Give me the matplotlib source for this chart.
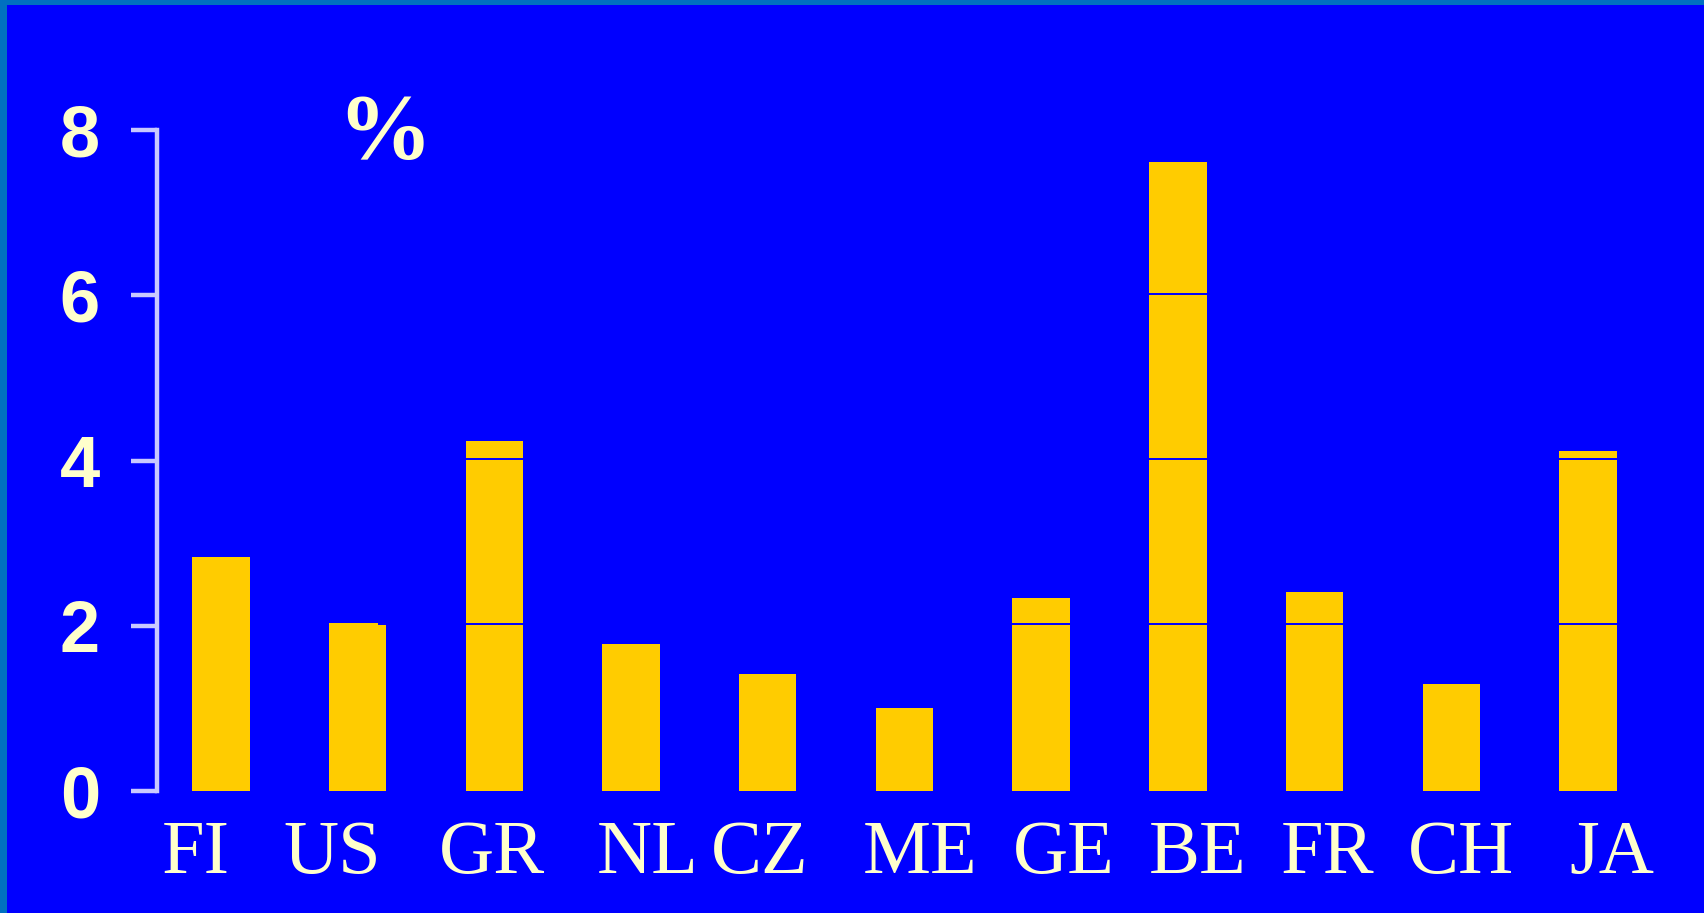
import matplotlib.pyplot as plt
import matplotlib.transforms as mtransforms
from matplotlib.patches import Rectangle

countries = ["FI", "US", "GR", "NL", "CZ", "ME", "GE", "BE", "FR", "CH", "JA"]
values = [2.83, 2.03, 4.24, 1.78, 1.42, 1.00, 2.34, 7.61, 2.41, 1.30, 4.12]
yticks = [0, 2, 4, 6, 8]
# the slide's labels are not quite centred under their bars (pixels)
label_shift_px = [-25, -25, -2, 17, -8, 16, 23, 20, 13, 10, 24]

BG = "#0000FF"
BAR = "#FFCC00"
TEXT = "#FFFFCC"
AXIS = "#C8C8FF"

fig = plt.figure(figsize=(17.04, 9.13), dpi=100, facecolor="#0070C0")
# blue slide area, leaving the steel-blue strip on the left and top
fig.patches.append(Rectangle((7 / 1704, 0), 1 - 7 / 1704, 1 - 5 / 913,
                             transform=fig.transFigure, facecolor=BG,
                             edgecolor="none", zorder=-10))

ax = fig.add_axes([0.0921, 0.1336, 0.888, 0.7240])
ax.set_facecolor("none")

x = list(range(len(countries)))
ax.bar(x, values, width=0.42, color=BAR, zorder=2)

# gridlines only show where they cross the bars (they start past the FI bar)
for y in [2, 4, 6]:
    ax.axhline(y + 0.02, xmin=0.1467, color=BG, lw=1.4, zorder=3)

ax.set_xlim(-0.468, 10.6)
ax.set_ylim(0, 8)

for side in ["top", "right", "bottom"]:
    ax.spines[side].set_visible(False)
ax.spines["left"].set_color(AXIS)
ax.spines["left"].set_linewidth(3.2)

ax.set_yticks(yticks)
ax.set_yticklabels([str(v) for v in yticks], fontsize=52, fontweight="bold",
                   fontfamily="Liberation Sans", color=TEXT)
ax.tick_params(axis="y", length=19, width=3.2, color=AXIS, pad=22)

ax.set_xticks(x)
ax.set_xticklabels(countries, fontsize=55, fontfamily="Liberation Serif",
                   color=TEXT)
ax.tick_params(axis="x", length=0, pad=21)
for lab, dx in zip(ax.get_xticklabels(), label_shift_px):
    lab.set_transform(lab.get_transform() + mtransforms.ScaledTranslation(
        dx / 100, 0, fig.dpi_scale_trans))

fig.text(0.2254, 0.852, "%", fontsize=68, fontweight="bold",
         fontfamily="Liberation Serif", color=TEXT, ha="center", va="center")

fig.savefig("out.png", dpi=100, facecolor=fig.get_facecolor())
